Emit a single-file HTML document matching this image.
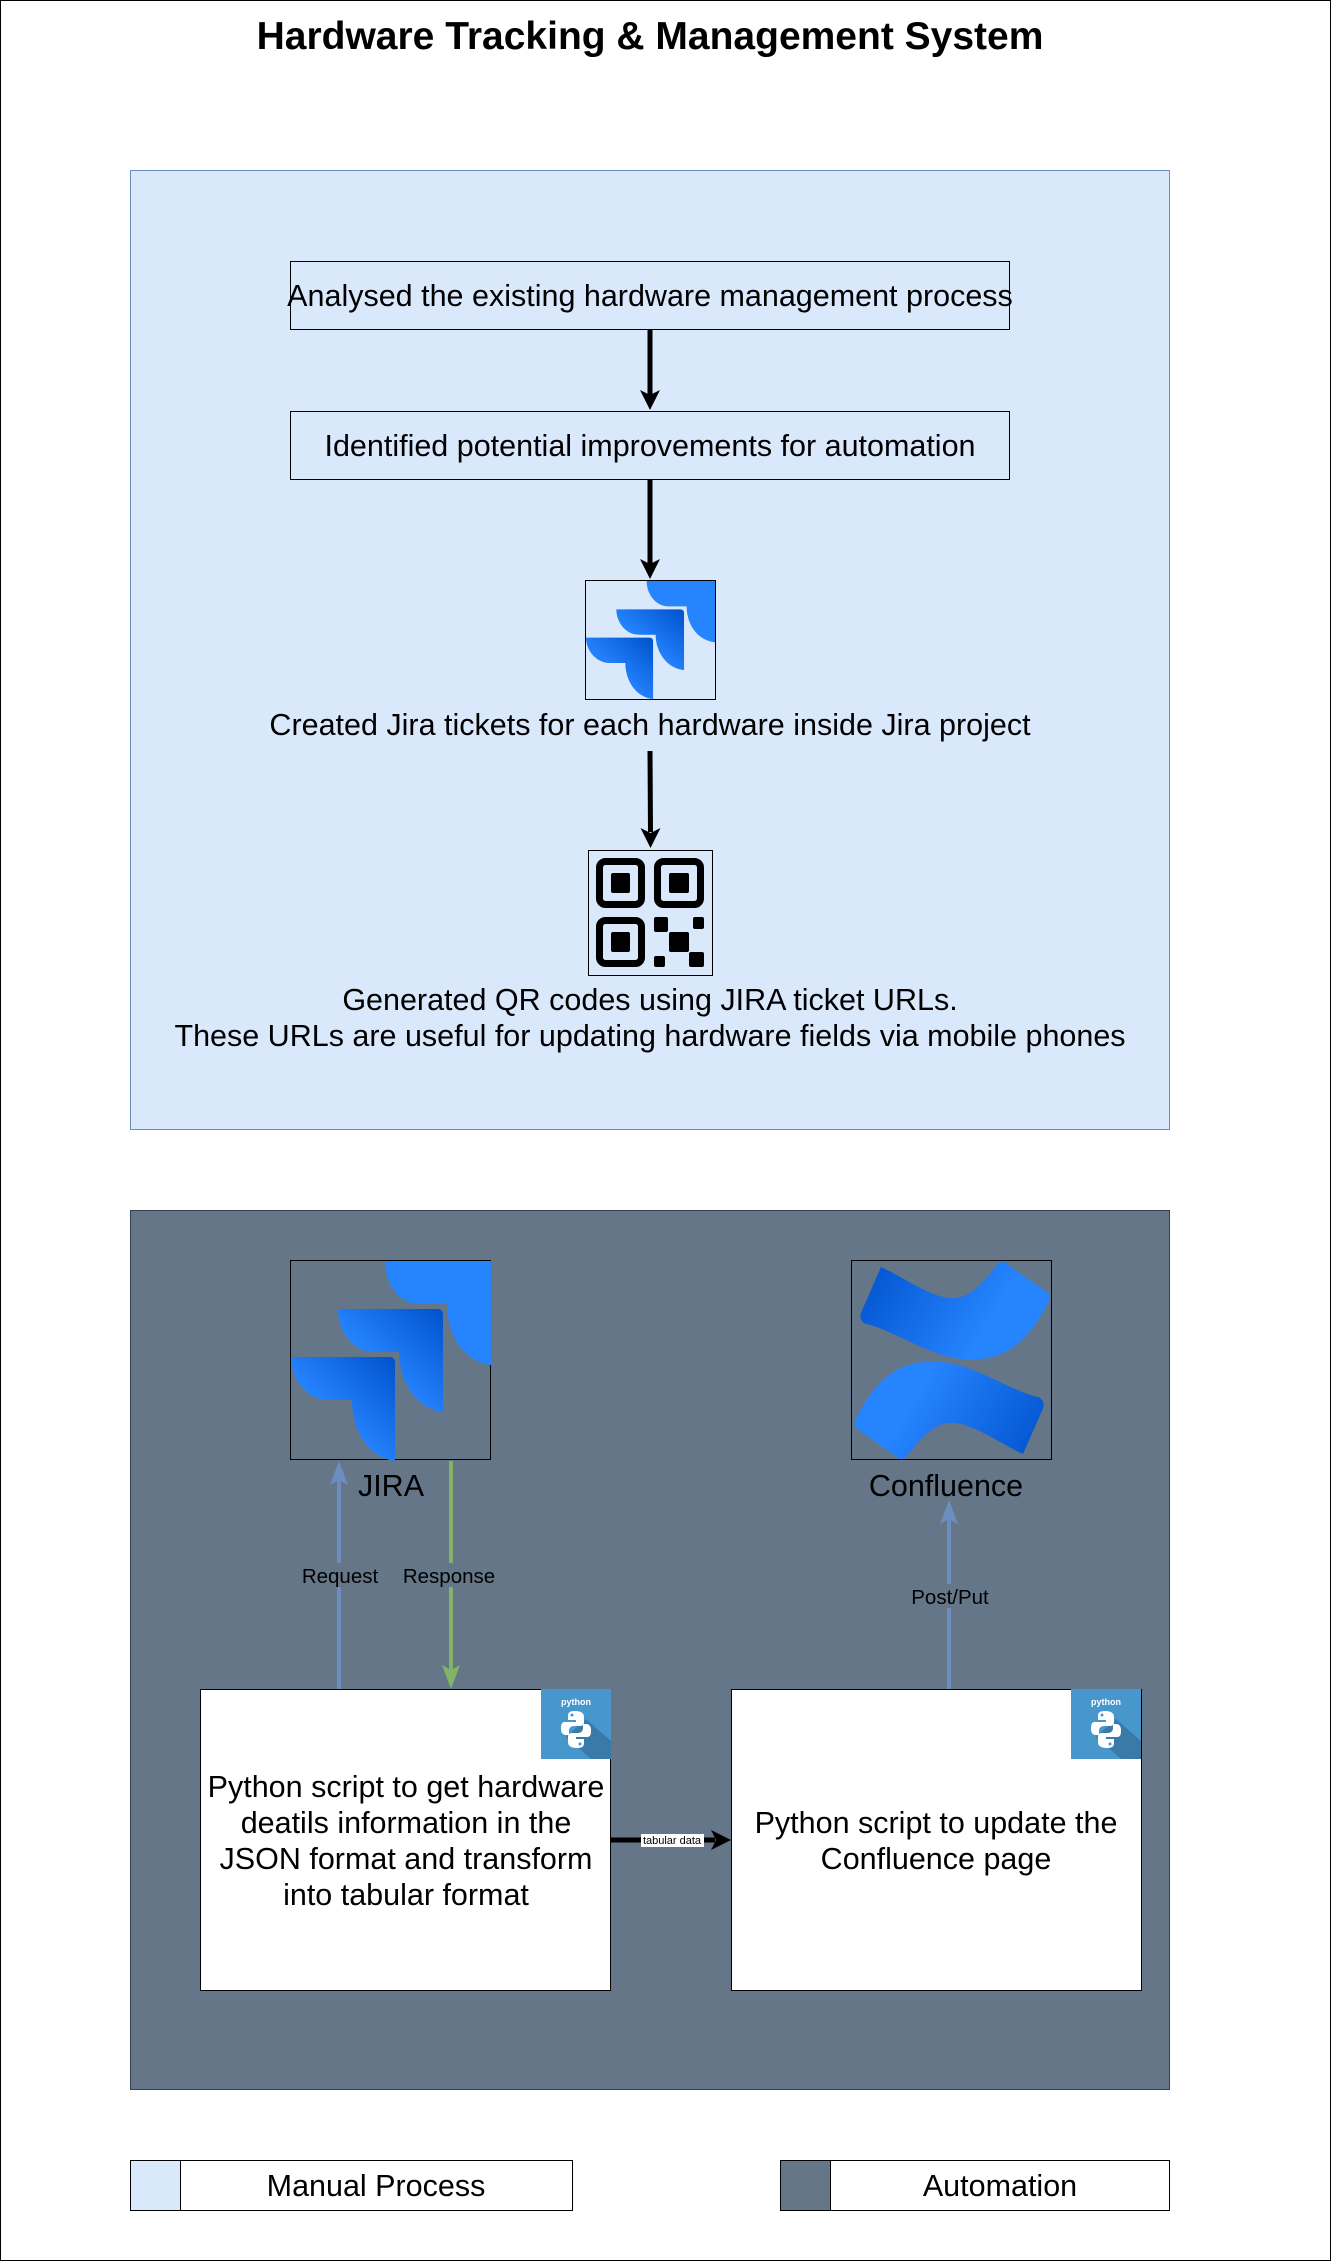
<!DOCTYPE html>
<html><head><meta charset="utf-8"><style>
html,body{margin:0;padding:0;background:#fff}
svg{display:block}
text{font-family:"Liberation Sans",Arial,sans-serif}
</style></head><body>
<svg width="1331" height="2261" viewBox="0 0 1331 2261" xmlns="http://www.w3.org/2000/svg">
<defs>
<linearGradient id="jg" x1="1" y1="0" x2="0" y2="1"><stop offset="0" stop-color="#0052cc"/><stop offset="0.6" stop-color="#2684ff"/></linearGradient>
<linearGradient id="cg" x1="0" y1="0" x2="1" y2="0.3"><stop offset="0" stop-color="#0052cc"/><stop offset="0.8" stop-color="#2684ff"/></linearGradient>
<g id="jira">
<path d="M94,0 H200 V104 C170,100 156,70 156,43 H128 C108,43 94,22 94,0 Z" fill="#2684ff"/>
<path d="M47,48 H146 Q152,48 152,54 V151 C125,148 108,120 108,91 H82 C62,91 47,70 47,48 Z" fill="url(#jg)"/>
<path d="M0,96 H98 Q104,96 104,102 V200 C78,197 61,170 61,139 H37 C16,139 0,118 0,96 Z" fill="url(#jg)"/>
</g>
<g id="conf">
<path d="M30,6 C60,20 90,45 113,35 C130,28 140,10 148,2 Q152,-1 156,3 L197,32 Q200,37 197,42 C180,75 160,100 118,99 C80,98 45,70 14,63 Q8,60 10,52 Z" fill="url(#cg)"/>
<path d="M30,6 C60,20 90,45 113,35 C130,28 140,10 148,2 Q152,-1 156,3 L197,32 Q200,37 197,42 C180,75 160,100 118,99 C80,98 45,70 14,63 Q8,60 10,52 Z" fill="url(#cg)" transform="rotate(180 101 100)"/>
</g>
<g id="py">
<rect x="0" y="0" width="70" height="70" fill="#4796cc"/>
<path d="M45,30 L70,52 L70,70 L50,70 L25,48 Z" fill="#3a7aa8"/>
<text x="35" y="16" font-size="9" font-weight="bold" fill="#fff" text-anchor="middle">python</text>
<path d="M34,22 C27,22 27,25 27,28 V31 H35 V33 H24 C20,33 20,37 20,40 C20,44 22,46 25,46 H28 V42 C28,39 30,37 33,37 H39 C42,37 43,35 43,33 V28 C43,24 40,22 34,22 Z" fill="#fff"/>
<path d="M36,59 C43,59 43,56 43,53 V50 H35 V48 H46 C50,48 50,44 50,41 C50,37 48,35 45,35 H42 V39 C42,42 40,44 37,44 H31 C28,44 27,46 27,48 V53 C27,57 30,59 36,59 Z" fill="#fff"/>
<circle cx="31" cy="26" r="1.5" fill="#4796cc"/><circle cx="39" cy="55" r="1.5" fill="#4796cc"/>
</g>
</defs>
<rect x="0.5" y="0.5" width="1330" height="2260" fill="#fff" stroke="#000"/>
<text x="650" y="49" font-size="39" font-weight="bold" text-anchor="middle">Hardware Tracking &amp; Management System</text>

<rect x="130.5" y="170.5" width="1039" height="959" fill="#dae8fc" stroke="#6c8ebf"/>
<rect x="290.5" y="261.5" width="719" height="68" fill="#dae8fc" stroke="#000"/>
<text x="650" y="306" font-size="30.5" text-anchor="middle">Analysed the existing hardware management process</text>
<rect x="290.5" y="411.5" width="719" height="68" fill="#dae8fc" stroke="#000"/>
<text x="650" y="456" font-size="30.5" text-anchor="middle">Identified potential improvements for automation</text>
<g stroke="#000" stroke-width="5" fill="none">
<line x1="650" y1="330" x2="650" y2="395"/>
<line x1="650" y1="480" x2="650" y2="564"/>
<line x1="650" y1="751" x2="650.5" y2="832"/>
</g>
<g fill="#000">
<path d="M640,390 L650,410 L660,390 L650,395Z"/>
<path d="M640,559 L650,579 L660,559 L650,564Z"/>
<path d="M640.5,828 L650.5,848 L660.5,828 L650.5,833Z"/>
</g>
<rect x="585.5" y="580.5" width="130" height="119" fill="#dae8fc" stroke="#000"/>
<g transform="translate(586,581) scale(0.645,0.59)"><use href="#jira"/></g>
<text x="650" y="735" font-size="30.5" text-anchor="middle">Created Jira tickets for each hardware inside Jira project</text>
<rect x="588.5" y="850.5" width="124" height="125" fill="#dae8fc" stroke="#000"/>
<g fill="none" stroke="#000" stroke-width="7">
<rect x="599.5" y="861.5" width="42" height="43" rx="6"/>
<rect x="657.5" y="861.5" width="43" height="43" rx="6"/>
<rect x="599.5" y="920.5" width="42" height="43" rx="6"/>
</g>
<g fill="#000">
<rect x="611" y="873" width="19" height="20" rx="2"/>
<rect x="669" y="873" width="20" height="20" rx="2"/>
<rect x="611" y="932" width="19" height="20" rx="2"/>
<rect x="654" y="917" width="14" height="15" rx="2"/>
<rect x="693" y="917" width="11" height="12" rx="2"/>
<rect x="669" y="932" width="20" height="20" rx="2"/>
<rect x="654" y="956" width="11" height="11" rx="2"/>
<rect x="689" y="952" width="15" height="15" rx="2"/>
</g>
<text x="650" y="1010" font-size="30.5" text-anchor="middle">Generated QR codes using JIRA ticket URLs.</text>
<text x="650" y="1046" font-size="30.5" text-anchor="middle">These URLs are useful for updating hardware fields via mobile phones</text>

<rect x="130.5" y="1210.5" width="1039" height="879" fill="#647687" stroke="#314354"/>
<rect x="290.5" y="1260.5" width="200" height="199" fill="none" stroke="#000"/>
<g transform="translate(291,1261)"><use href="#jira"/></g>
<text x="391" y="1496" font-size="30.5" text-anchor="middle">JIRA</text>
<rect x="851.5" y="1260.5" width="200" height="199" fill="none" stroke="#000"/>
<g transform="translate(851,1261) scale(1,0.995)"><use href="#conf"/></g>
<text x="946" y="1496" font-size="30.5" text-anchor="middle">Confluence</text>

<line x1="339" y1="1689" x2="339" y2="1475" stroke="#6c8ebf" stroke-width="4"/>
<path d="M330,1485 L339,1461 L348,1485 L339,1480Z" fill="#6c8ebf"/>
<line x1="451" y1="1461" x2="451" y2="1675" stroke="#82b366" stroke-width="4"/>
<path d="M442,1665 L451,1689 L460,1665 L451,1670Z" fill="#82b366"/>
<line x1="949" y1="1689" x2="949" y2="1515" stroke="#6c8ebf" stroke-width="4"/>
<path d="M940,1524 L949,1500 L958,1524 L949,1519Z" fill="#6c8ebf"/>
<rect x="298" y="1563" width="84" height="24" fill="#647687"/>
<text x="340" y="1583" font-size="20.5" text-anchor="middle">Request</text>
<rect x="400" y="1563" width="100" height="24" fill="#647687"/>
<text x="449" y="1583" font-size="20.5" text-anchor="middle">Response</text>
<rect x="908" y="1584" width="82" height="24" fill="#647687"/>
<text x="950" y="1604" font-size="20.5" text-anchor="middle">Post/Put</text>

<rect x="200.5" y="1689.5" width="410" height="301" fill="#fff" stroke="#000"/>
<g transform="translate(541,1689)"><use href="#py"/></g>
<g font-size="30.5" text-anchor="middle">
<text x="406" y="1797">Python script to get hardware</text>
<text x="406" y="1833">deatils information in the</text>
<text x="406" y="1869">JSON format and transform</text>
<text x="406" y="1905">into tabular format</text>
</g>
<rect x="731.5" y="1689.5" width="410" height="301" fill="#fff" stroke="#000"/>
<g transform="translate(1071,1689)"><use href="#py"/></g>
<g font-size="30.5" text-anchor="middle">
<text x="936" y="1833">Python script to update the</text>
<text x="936" y="1869">Confluence page</text>
</g>
<line x1="611" y1="1840" x2="715" y2="1840" stroke="#000" stroke-width="5"/>
<path d="M711,1830 L731,1840 L711,1850 L716,1840Z" fill="#000"/>
<rect x="641" y="1834" width="63" height="13" fill="#fff"/>
<text x="672" y="1844" font-size="11" text-anchor="middle">tabular data</text>

<rect x="130.5" y="2160.5" width="442" height="50" fill="#fff" stroke="#000"/>
<rect x="130.5" y="2160.5" width="50" height="50" fill="#dae8fc" stroke="#000"/>
<text x="376" y="2196" font-size="30.5" text-anchor="middle">Manual Process</text>
<rect x="780.5" y="2160.5" width="389" height="50" fill="#fff" stroke="#000"/>
<rect x="780.5" y="2160.5" width="50" height="50" fill="#647687" stroke="#000"/>
<text x="1000" y="2196" font-size="30.5" text-anchor="middle">Automation</text>
</svg>
</body></html>
